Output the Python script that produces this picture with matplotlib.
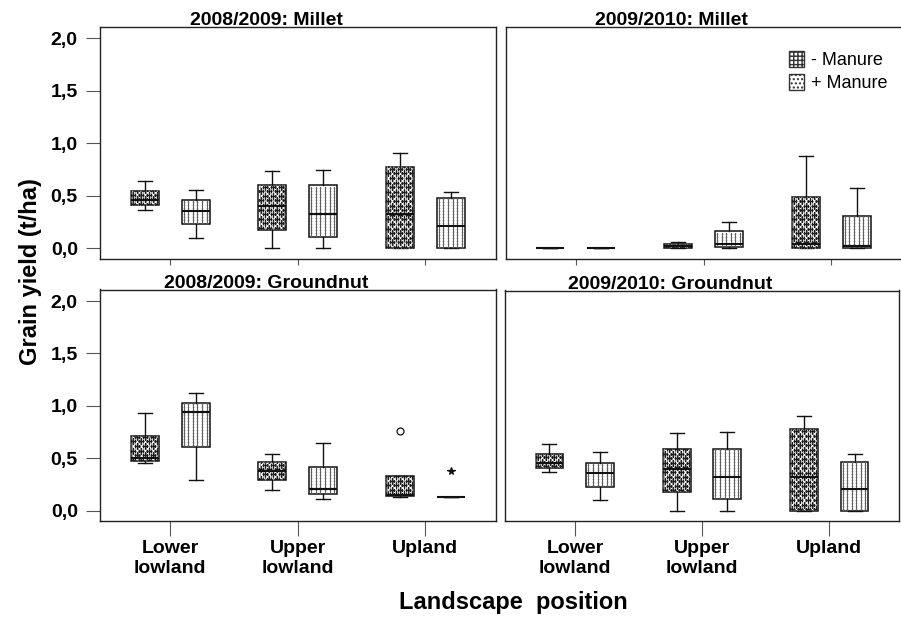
# LIBRARIES IMPORT
import numpy as np
from matplotlib import pyplot as plt
import matplotlib.patches as mpatches

plt.rcParams['font.family'] = ['Liberation Sans', 'DejaVu Sans']

# DATA (box statistics, t/ha)
positions = ['Lower\nlowland', 'Upper\nlowland', 'Upland']
titles = ['2008/2009: Millet', '2009/2010: Millet',
          '2008/2009: Groundnut', '2009/2010: Groundnut']

# 2008/2009 Millet
m0809_minus_lo = [0.37, 0.00, 0.00]
m0809_minus_q1 = [0.41, 0.18, 0.00]
m0809_minus_med = [0.46, 0.40, 0.33]
m0809_minus_q3 = [0.55, 0.60, 0.78]
m0809_minus_hi = [0.64, 0.74, 0.91]
m0809_plus_lo = [0.10, 0.00, 0.00]
m0809_plus_q1 = [0.23, 0.11, 0.00]
m0809_plus_med = [0.36, 0.33, 0.21]
m0809_plus_q3 = [0.46, 0.60, 0.48]
m0809_plus_hi = [0.56, 0.75, 0.54]

# 2009/2010 Millet
m0910_minus_lo = [0.00, 0.00, 0.00]
m0910_minus_q1 = [0.00, 0.005, 0.00]
m0910_minus_med = [0.00, 0.02, 0.04]
m0910_minus_q3 = [0.00, 0.04, 0.49]
m0910_minus_hi = [0.00, 0.06, 0.88]
m0910_plus_lo = [0.00, 0.00, 0.00]
m0910_plus_q1 = [0.00, 0.015, 0.005]
m0910_plus_med = [0.00, 0.04, 0.025]
m0910_plus_q3 = [0.00, 0.165, 0.31]
m0910_plus_hi = [0.00, 0.25, 0.58]

# 2008/2009 Groundnut
g0809_minus_lo = [0.45, 0.20, 0.13]
g0809_minus_q1 = [0.47, 0.29, 0.14]
g0809_minus_med = [0.50, 0.38, 0.145]
g0809_minus_q3 = [0.71, 0.46, 0.33]
g0809_minus_hi = [0.93, 0.54, 0.33]
g0809_minus_out = [[], [], [0.755]]
g0809_plus_lo = [0.29, 0.11, 0.125]
g0809_plus_q1 = [0.61, 0.16, 0.125]
g0809_plus_med = [0.94, 0.21, 0.125]
g0809_plus_q3 = [1.03, 0.42, 0.125]
g0809_plus_hi = [1.12, 0.64, 0.125]
g0809_plus_out = [[], [], [0.38]]

# 2009/2010 Groundnut
g0910_minus_lo = [0.37, 0.00, 0.00]
g0910_minus_q1 = [0.41, 0.18, 0.00]
g0910_minus_med = [0.46, 0.40, 0.32]
g0910_minus_q3 = [0.54, 0.59, 0.78]
g0910_minus_hi = [0.64, 0.74, 0.91]
g0910_plus_lo = [0.10, 0.00, 0.00]
g0910_plus_q1 = [0.23, 0.11, 0.00]
g0910_plus_med = [0.36, 0.32, 0.21]
g0910_plus_q3 = [0.46, 0.59, 0.47]
g0910_plus_hi = [0.56, 0.75, 0.54]

panels = [
    ((m0809_minus_lo, m0809_minus_q1, m0809_minus_med, m0809_minus_q3, m0809_minus_hi, None),
     (m0809_plus_lo, m0809_plus_q1, m0809_plus_med, m0809_plus_q3, m0809_plus_hi, None)),
    ((m0910_minus_lo, m0910_minus_q1, m0910_minus_med, m0910_minus_q3, m0910_minus_hi, None),
     (m0910_plus_lo, m0910_plus_q1, m0910_plus_med, m0910_plus_q3, m0910_plus_hi, None)),
    ((g0809_minus_lo, g0809_minus_q1, g0809_minus_med, g0809_minus_q3, g0809_minus_hi, g0809_minus_out),
     (g0809_plus_lo, g0809_plus_q1, g0809_plus_med, g0809_plus_q3, g0809_plus_hi, g0809_plus_out)),
    ((g0910_minus_lo, g0910_minus_q1, g0910_minus_med, g0910_minus_q3, g0910_minus_hi, None),
     (g0910_plus_lo, g0910_plus_q1, g0910_plus_med, g0910_plus_q3, g0910_plus_hi, None)),
]

XLIM = (0.45, 3.55)
YLIM = (-0.1, 2.11)
AX_W_PX = 395.0
AX_H_PX = 232.0


# FUNCTION DEFINITION
def make_stats(lo, q1, med, q3, hi, out):
    stats = []
    for i in range(len(lo)):
        stats.append({'whislo': lo[i], 'q1': q1[i], 'med': med[i], 'q3': q3[i],
                      'whishi': hi[i], 'fliers': out[i] if out else []})
    return stats


def fill_pattern(ax, patch, kind):
    # pixel -> data units
    ux = (XLIM[1] - XLIM[0]) / AX_W_PX
    uy = (YLIM[1] - YLIM[0]) / AX_H_PX
    ext = patch.get_path().get_extents()
    if ext.height <= 0:
        return
    if kind == 'minus':
        # gray dots background
        xs = np.arange(ext.x0 - ux, ext.x1 + ux, 2.7 * ux)
        ys = np.arange(ext.y0 - uy, ext.y1 + uy, 2.7 * uy)
        X, Y = np.meshgrid(xs, ys)
        ln, = ax.plot(X.ravel(), Y.ravel(), ls='none', marker='s', ms=0.9,
                      mew=0, color='#a0a0a0', zorder=3)
        ln.set_clip_path(patch)
        # staggered crosses
        px, py = 8.0 * ux, 4.6 * uy
        ys = np.arange(ext.y0 + 1.5 * uy, ext.y1 + py, py)
        X = []
        Y = []
        for k, yy in enumerate(ys):
            xs = np.arange(ext.x0 + 2.5 * ux + (k % 2) * px / 2, ext.x1 + px, px)
            X.extend(xs)
            Y.extend([yy] * len(xs))
        ln, = ax.plot(X, Y, ls='none', marker='+', ms=4.2, mew=1.0,
                      color='#1e1e1e', zorder=3)
        ln.set_clip_path(patch)
    else:
        # columns of small dots
        xs = np.arange(ext.x0 + 2 * ux, ext.x1, 4.6 * ux)
        ys = np.arange(ext.y0 + 1.2 * uy, ext.y1, 3.0 * uy)
        X, Y = np.meshgrid(xs, ys)
        ln, = ax.plot(X.ravel(), Y.ravel(), ls='none', marker='s', ms=1.1,
                      mew=0, color='#606060', zorder=3)
        ln.set_clip_path(patch)


# CREATE FIGURE
fig = plt.figure(figsize=(9.01, 6.19), dpi=100)
W, H = 901.0, 619.0
boxes_px = [(100, 26.7, 395.5, 232.3), (505.5, 26.7, 396, 232.3),
            (100, 289.5, 395.5, 231.5), (505, 290.5, 394, 230.5)]

x_pos = np.arange(1, len(positions) + 1)
for p, (minus, plus) in enumerate(panels):
    l, t, w, h = boxes_px[p]
    ax = fig.add_axes([l / W, 1 - (t + h) / H, w / W, h / H])

    for j, (data, offset, fmark) in enumerate([(minus, -0.2, 'o'), (plus, 0.2, '*')]):
        stats = make_stats(*data)
        res = ax.bxp(stats, positions=x_pos + offset, widths=0.22, capwidths=0.11,
                     patch_artist=True, manage_ticks=False,
                     boxprops=dict(facecolor='white', edgecolor='#111111', linewidth=1.1),
                     whiskerprops=dict(color='#111111', linewidth=1.0),
                     capprops=dict(color='#111111', linewidth=1.0),
                     medianprops=dict(color='#111111', linewidth=1.5),
                     flierprops=dict(marker=fmark, markersize=5 if fmark == 'o' else 5.5,
                                     markerfacecolor='white' if fmark == 'o' else '#111111',
                                     markeredgecolor='#111111', markeredgewidth=0.9))
        for bx in res['boxes']:
            fill_pattern(ax, bx, 'minus' if j == 0 else 'plus')
        for md in res['medians']:
            md.set_zorder(4)

    ax.set_xlim(XLIM)
    ax.set_ylim(YLIM)
    ax.set_xticks(x_pos)
    ax.set_yticks([0, 0.5, 1.0, 1.5, 2.0])
    for s in ax.spines.values():
        s.set_color('#222222')
        s.set_linewidth(1.0)

    if p < 2:
        ax.tick_params(axis='x', length=4, color='#555555', labelbottom=False)
    else:
        ax.set_xticklabels(positions, fontsize=14, fontweight='bold')
        ax.tick_params(axis='x', length=11, color='#555555', pad=3)
    if p % 2 == 0:
        ax.set_yticklabels(['0,0', '0,5', '1,0', '1,5', '2,0'], fontsize=14, fontweight='bold')
        ax.tick_params(axis='y', length=10, color='#555555', pad=6)
    else:
        ax.tick_params(axis='y', left=False, labelleft=False)

    ax.text(0.42, 1.006, titles[p], transform=ax.transAxes, ha='center', va='baseline',
            fontsize=14, fontweight='bold')

    if p == 1:
        minus_patch = mpatches.Patch(facecolor='white', edgecolor='#333333', hatch='++++', label='- Manure')
        plus_patch = mpatches.Patch(facecolor='white', edgecolor='#333333', hatch='....', label='+ Manure')
        ax.legend(handles=[minus_patch, plus_patch], loc='upper right', frameon=False,
                  fontsize=13, handlelength=0.85, handleheight=0.95, handletextpad=0.35,
                  labelspacing=0.3, borderaxespad=0.5, bbox_to_anchor=(1.005, 0.965))

fig.text(30 / W, 1 - 272 / H, 'Grain yield (t/ha)', rotation=90, ha='center', va='center',
         fontsize=17, fontweight='bold')
fig.text(513 / W, 1 - 603 / H, 'Landscape  position', ha='center', va='center',
         fontsize=17, fontweight='bold')

plt.savefig('out.png', dpi=100)
